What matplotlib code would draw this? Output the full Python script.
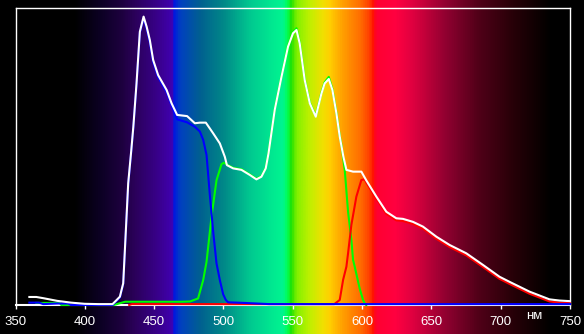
import numpy as np
import matplotlib
matplotlib.use("Agg")
import matplotlib.pyplot as plt
from matplotlib.colors import LinearSegmentedColormap

plt.rcParams['font.family'] = ['Liberation Sans', 'DejaVu Sans']

# Wavelength axis
tick_nm = [350, 400, 450, 500, 550, 600, 650, 700, 750]
unit_label = "нм"

# White (sum) spectrum
white_nm = [360, 365, 370, 380, 390, 400, 410, 420, 423, 425.3, 427.7, 428.9, 430.1, 431.3,
            433.5, 435, 437.3, 439.7, 442.4, 444.6, 446.9, 449.3, 452.9, 459, 462.6, 466.6,
            473.8, 479.4, 483, 487.3, 492.6, 497.4, 501, 502.5, 507, 513, 519, 523.8, 527.4,
            530.5, 532.5, 537, 541.9, 546.6, 550.2, 552.7, 555, 558.6, 562.3, 566.6, 570.7,
            573, 576, 578.6, 581.5, 583.9, 586.5, 588.7, 593.5, 599.5, 603, 610.3, 617.5,
            624.7, 629.5, 636.7, 643.9, 653.6, 663.2, 675.2, 687.2, 699.2, 706.4, 720.8,
            735.2, 742.4, 750]
white_val = [2.7, 2.7, 2.3, 1.4, 0.8, 0.4, 0.3, 0.3, 1.7, 2.8, 7.3, 18.5, 29.7, 41,
             52, 60, 74.6, 92, 97.1, 93.7, 89.2, 82.5, 77.4, 72.4, 67.9, 64,
             63.6, 61.2, 61.4, 61.4, 57.8, 54.4, 49.9, 47.1, 46, 45.5, 43.8, 42.3, 43.2,
             46, 51, 65.7, 76.9, 87, 91.5, 92.6, 88.1, 75.8, 67.9, 63.4, 71.2,
             74.6, 76.1, 72.4, 64.5, 56.7, 50, 45.5, 44.9, 44.9, 42, 36.5, 31.4,
             29.2, 29, 28, 26.4, 23, 20.2, 17.4, 13.5, 9.5, 7.8, 4.5,
             1.9, 1.5, 1.3]

# Blue channel
blue_nm = [360, 367, 370, 380, 388, 390, 420, 425.3, 427.7, 428.9, 430.1, 431.3, 433.5, 435,
           437.3, 439.7, 442.4, 444.6, 446.9, 449.3, 452.9, 459, 462.6, 466.6, 473.8, 479.4,
           483, 485.4, 487.8, 490.2, 492.6, 495, 497.4, 499.8, 501.7, 503.4, 515, 533, 750]
blue_val = [0.8, 0.8, 0.3, 0.5, 0.5, 0.0, 0.0, 2.5, 7, 18, 29.3, 40.6, 51.6, 59.6,
            74.2, 91.6, 96.6, 93, 88.5, 81.8, 76.7, 71.7, 67.2, 62.5, 61.5, 60,
            58.4, 55.6, 50.5, 37, 24.7, 14, 8.4, 3.6, 1.7, 0.9, 0.7, 0.3, 0.3]

# Green channel
green_nm = [365, 382, 383, 421, 429, 470, 476, 481.7, 485.4, 487.8, 491.4, 495, 498.6, 500.3,
            502.5, 507, 513, 519, 523.8, 527.4, 530.5, 532.5, 537, 541.9, 546.6, 550.2,
            552.7, 555, 558.6, 562.3, 566.6, 570.7, 573, 576, 578.6, 581.5, 583.9, 585.1,
            587.5, 589.9, 592.3, 593.5, 594.7, 598.3, 600.7, 602, 603]
green_val = [0.7, 0.7, 0.0, 0.0, 1.1, 1.1, 1.2, 2.2, 8.4, 14.5, 29.7, 42, 47.4, 47.9,
             47.3, 46.2, 45.7, 44, 42.5, 43.4, 46.2, 51.2, 65.9, 77.1, 87.3, 92,
             93.2, 88.4, 76, 68.1, 63.6, 71.5, 75, 76.8, 72.7, 64.7, 56.9, 54,
             45.5, 31.4, 21.9, 15.2, 12.9, 5.5, 1.7, 0.5, 0.0]

# Red channel
red_nm = [432, 434, 580, 583.9, 586.3, 588.7, 589.9, 592.3, 595.9, 599.5, 601.9, 603, 610.3,
          617.5, 624.7, 629.5, 636.7, 643.9, 653.6, 663.2, 675.2, 687.2, 699.2, 706.4, 720.8,
          735.2, 742.4, 750]
red_val = [0.0, 0.3, 0.3, 1.7, 8.4, 12.9, 17.4, 27, 36.5, 42.1, 42.3, 41.3, 35.8,
           30.7, 28.5, 28.3, 27.3, 25.7, 22.3, 19.5, 16.7, 12.8, 8.8, 7.1, 3.8,
           1.2, 0.8, 0.6]

# Background spectrum colour stops (wavelength, colour)
spectrum_stops = [
    (338.8, '#000000'), (392, '#000000'), (411, '#0c0024'), (427, '#1e0040'),
    (435, '#2a0058'), (454, '#3a0090'), (462.6, '#4000b0'), (464.2, '#0018e0'),
    (468.6, '#0040c0'), (483, '#006090'), (500, '#008888'), (519, '#00c890'),
    (535, '#00e890'), (543, '#00f590'), (546.5, '#00ff50'), (549, '#20e000'),
    (552.7, '#80f000'), (562.3, '#c0f000'), (571.8, '#f0e000'), (576.7, '#ffd000'),
    (586, '#ffa000'), (598.3, '#ff7000'), (605.5, '#ff4000'), (608.4, '#ff1000'),
    (610.3, '#ff0030'), (624.7, '#ff0040'), (636.7, '#e00040'), (661, '#900030'),
    (685, '#500018'), (709, '#280008'), (726, '#100002'), (737, '#000000'),
    (760.1, '#000000'),
]

W, H = 584, 334
fig = plt.figure(figsize=(W / 100, H / 100), dpi=100)
fig.patch.set_facecolor('black')

# full-figure background with the spectrum gradient
x_lo, x_hi = 350 - 15.5 / 1.3875, 750 + 14 / 1.3875
bg = fig.add_axes([0, 0, 1, 1])
lo, hi = spectrum_stops[0][0], spectrum_stops[-1][0]
cmap = LinearSegmentedColormap.from_list(
    'spec', [((w - lo) / (hi - lo), c) for w, c in spectrum_stops])
wl = np.linspace(x_lo, x_hi, 1500)
bg.imshow(((wl - lo) / (hi - lo))[np.newaxis, :], cmap=cmap, vmin=0, vmax=1,
          extent=[x_lo, x_hi, 0, 1], aspect='auto', interpolation='bilinear')
bg.set_xlim(x_lo, x_hi)
bg.set_ylim(0, 1)
bg.axis('off')

# main plot area
ax = fig.add_axes([15.5 / W, (H - 305) / H, (570 - 15.5) / W, 297 / H])
ax.set_facecolor('none')
ax.set_xlim(350, 750)
ax.set_ylim(0, 100)

lw = 1.5
ax.plot(green_nm, green_val, color='#00ff00', lw=lw, clip_on=False, zorder=3)
ax.plot(red_nm, red_val, color='#ff0000', lw=lw, clip_on=False, zorder=4)
ax.plot(blue_nm, blue_val, color='#0000ff', lw=lw, clip_on=False, zorder=5)
ax.plot(white_nm, white_val, color='white', lw=lw, clip_on=False, zorder=6)

for side in ['top', 'left', 'right']:
    ax.spines[side].set_color('white')
    ax.spines[side].set_linewidth(1.0)
ax.spines['bottom'].set_color('white')
ax.spines['bottom'].set_linewidth(1.5)

ax.set_yticks([])
ax.set_xticks(tick_nm)
ax.tick_params(axis='x', colors='white', length=3, width=1, direction='out',
               labelsize=9.5, pad=5)

fig.text(534 / W, 1 - 316 / H, unit_label, color='white', fontsize=9.5,
         ha='center', va='center')

fig.savefig('out.png', dpi=100, facecolor='black')
